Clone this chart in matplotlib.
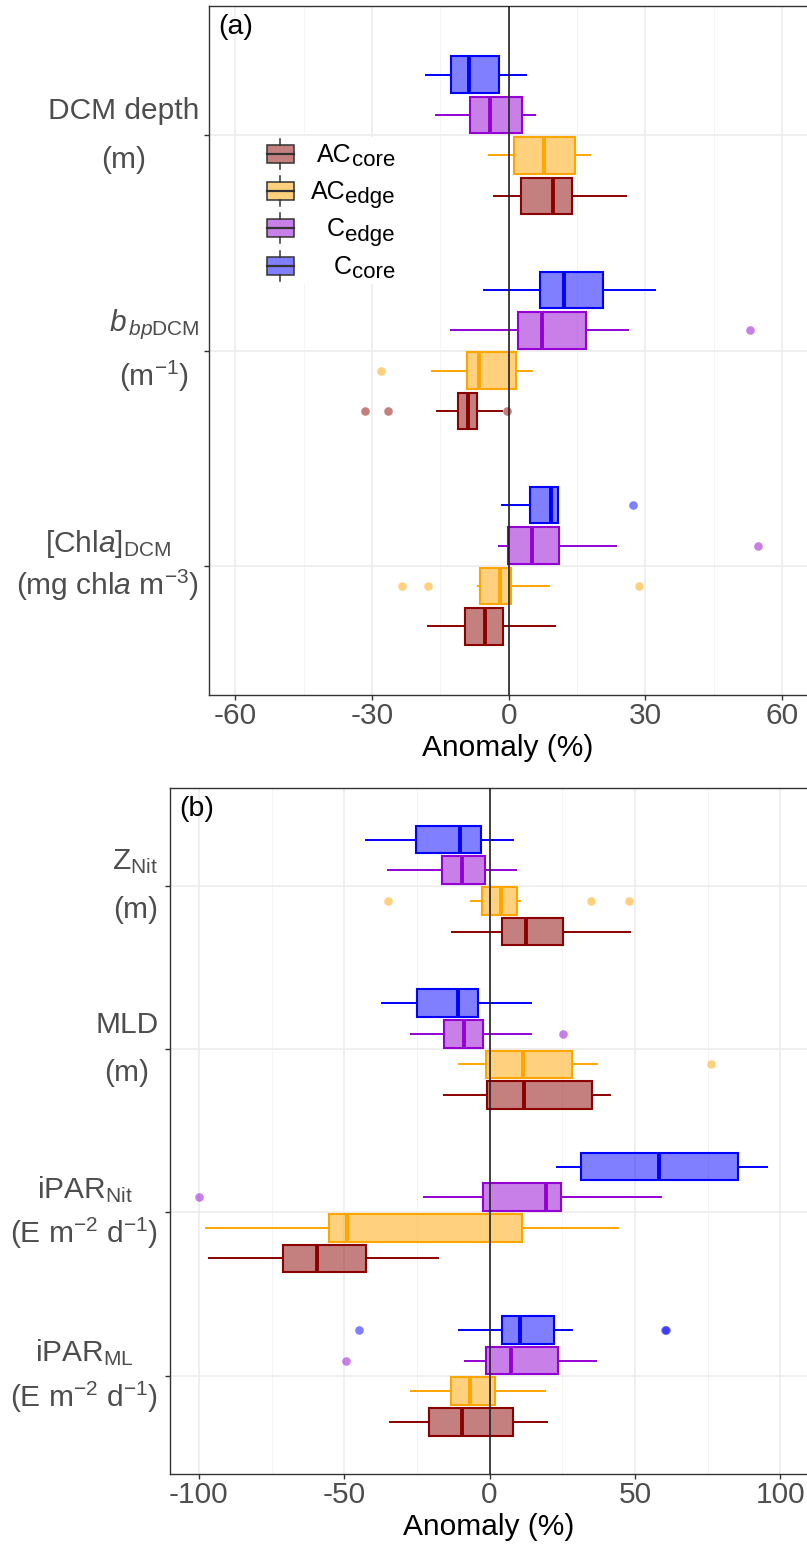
import numpy as np
import matplotlib
matplotlib.use('Agg')
import matplotlib.pyplot as plt
from matplotlib.colors import to_rgba
from matplotlib.patches import Rectangle
from matplotlib.lines import Line2D
from matplotlib.text import Annotation
import matplotlib.transforms as mtrans

plt.rcParams['font.family'] = ['Liberation Sans', 'DejaVu Sans']
plt.rcParams['mathtext.fontset'] = 'custom'
plt.rcParams['mathtext.rm'] = 'Liberation Sans'
plt.rcParams['mathtext.it'] = 'Liberation Sans:italic'
plt.rcParams['mathtext.bf'] = 'Liberation Sans:bold'
plt.rcParams['axes.unicode_minus'] = False

# ---------------- data ----------------
GROUPS = ['C_core', 'C_edge', 'AC_edge', 'AC_core']          # drawn top -> bottom inside each category
LINE_COLORS = ['#0000FF', '#9400D3', '#FFA500', '#8B0000']
LEGEND_MAIN = ['C', 'C', 'AC', 'AC']
LEGEND_SUB = ['core', 'edge', 'edge', 'core']
LEGEND_ORDER = [3, 2, 1, 0]   # indices into GROUPS, legend top -> bottom

# Panel (a): variables
A_LABELS = ['DCM depth\n(m)',
            r'$b_{\,bp\mathrm{DCM}}$' + '\n' + r'(m$^{-1}$)',
            r'[Chl$a$]$_{\mathrm{DCM}}$' + '\n' + r'(mg chl$a$ m$^{-3}$)']
# rows: variables ; columns: C_core, C_edge, AC_edge, AC_core
A_WLO = [[-18.1, -16.0, -4.3, -3.3],
         [-5.4, -12.6, -16.9, -15.7],
         [-1.4, -2.1, -6.7, -17.8]]
A_Q1 = [[-12.7, -8.4, 1.1, 2.6],
        [6.8, 2.0, -9.1, -11.2],
        [4.7, -0.2, -6.2, -9.5]]
A_MED = [[-8.8, -4.2, 7.7, 9.7],
         [12.1, 7.3, -6.5, -9.0],
         [9.2, 5.1, -1.8, -5.3]]
A_Q3 = [[-2.2, 2.9, 14.5, 13.8],
        [20.7, 16.9, 1.5, -7.0],
        [10.8, 11.0, 0.4, -1.3]]
A_WHI = [[3.8, 5.7, 17.8, 25.7],
         [32.1, 26.1, 5.1, -1.5],
         [10.8, 23.6, 8.8, 10.1]]
A_OUT = [[[], [], [], []],
         [[], [53.0], [-28.0], [-31.6, -26.5, -0.3]],
         [[27.3], [54.8], [-23.4, -17.8, 28.6], []]]
A_XTICKS = [-60, -30, 0, 30, 60]
A_XMINOR = [-45, -15, 15, 45]

# Panel (b)
B_LABELS = [r'Z$_{\mathrm{Nit}}$' + '\n(m)',
            'MLD\n(m)',
            r'iPAR$_{\mathrm{Nit}}$' + '\n' + r'(E m$^{-2}$ d$^{-1}$)',
            r'iPAR$_{\mathrm{ML}}$' + '\n' + r'(E m$^{-2}$ d$^{-1}$)']
B_WLO = [[-42.4, -35.0, -6.4, -13.0],
         [-37.0, -26.9, -10.6, -15.8],
         [23.3, -22.5, -97.4, -96.5],
         [-10.4, -8.3, -27.1, -34.2]]
B_Q1 = [[-25.4, -16.5, -2.5, 4.2],
        [-24.9, -15.8, -1.1, -0.8],
        [31.5, -2.2, -55.1, -71.0],
        [4.4, -1.3, -13.1, -21.0]]
B_MED = [[-10.1, -9.4, 4.0, 12.5],
         [-11.0, -8.8, 11.4, 11.7],
         [58.4, 19.4, -49.2, -59.2],
         [10.5, 7.5, -6.8, -9.4]]
B_Q3 = [[-2.9, -1.7, 9.3, 25.3],
        [-4.1, -2.2, 28.5, 35.2],
        [85.5, 24.5, 11.2, -42.6],
        [22.1, 23.6, 2.0, 8.2]]
B_WHI = [[8.2, 9.0, 10.5, 48.2],
         [14.4, 14.4, 36.8, 41.5],
         [95.4, 58.9, 44.1, -17.7],
         [28.4, 36.6, 19.2, 19.7]]
B_OUT = [[[], [], [-35.1, 35.0, 47.8], []],
         [[], [25.4], [76.3], []],
         [[], [-99.8], [], []],
         [[-44.9, 60.4, 60.8], [-49.4], [], []]]
B_XTICKS = [-100, -50, 0, 50, 100]
B_XMINOR = [-75, -25, 25, 75]

# label line spacings (style)
A_LSP = [1.95, 1.62, 1.3]
B_LSP = [1.95, 1.95, 1.42, 1.42]

# ---------------- figure ----------------
W, H = 807, 1546
DPI = 100
fig = plt.figure(figsize=(W / DPI, H / DPI), dpi=DPI)

def fx(px):
    return px / W

def fy(py):
    return 1 - py / H

TICK_COL = '#4D4D4D'
BORDER_COL = '#333333'
FS = 21.5


def draw_panel(ax, labels, lsp, wlo, q1, med, q3, whi, outs, xlim, xticks, xminor, tag, label_pad):
    n = len(labels)
    cats = np.arange(1, n + 1)
    dodge = 0.1875
    for g, col in enumerate(LINE_COLORS):
        stats = []
        for i in range(n):
            stats.append(dict(whislo=wlo[i][g], q1=q1[i][g], med=med[i][g],
                              q3=q3[i][g], whishi=whi[i][g], fliers=outs[i][g]))
        pos = cats + (g - 1.5) * dodge
        ax.bxp(stats, positions=pos, widths=0.169, orientation='horizontal',
               patch_artist=True, showcaps=False, manage_ticks=False,
               boxprops=dict(facecolor=to_rgba(col, 0.5), edgecolor=col, linewidth=1.5),
               medianprops=dict(color=col, linewidth=2.8, solid_capstyle='butt'),
               whiskerprops=dict(color=col, linewidth=1.4),
               flierprops=dict(marker='o', markersize=6.2, markerfacecolor=to_rgba(col, 0.5),
                               markeredgecolor='none', linestyle='none'))
    ax.axvline(0, color='#222222', lw=1.2, zorder=6)
    ax.set_xlim(*xlim)
    ax.set_ylim(n + 0.6, 0.4)
    ax.set_xticks(xticks)
    ax.set_xticks(xminor, minor=True)
    ax.set_xticklabels([str(t) for t in xticks])
    ax.set_yticks(cats)
    ax.set_yticklabels([''] * n)
    ax.grid(which='major', color='#EBEBEB', lw=1.1, zorder=0)
    ax.grid(which='minor', axis='x', color='#F4F4F4', lw=0.7, zorder=0)
    ax.set_axisbelow(True)
    ax.tick_params(axis='both', which='major', length=3.5, width=1.0, color=BORDER_COL,
                   labelcolor=TICK_COL, labelsize=FS, pad=1.5)
    ax.tick_params(axis='x', which='minor', length=0)
    for side in ['left', 'top', 'bottom']:
        ax.spines[side].set_color(BORDER_COL)
        ax.spines[side].set_linewidth(1.0)
    ax.spines['right'].set_visible(False)
    ax.set_xlabel('Anomaly (%)', fontsize=FS, color='black', labelpad=3)
    trans = ax.get_yaxis_transform() + mtrans.ScaledTranslation(-label_pad / 72, 0, fig.dpi_scale_trans)
    for c, lab, ls in zip(cats, labels, lsp):
        ax.text(0, c, lab, transform=trans, ha='right', va='center', ma='center',
                fontsize=FS, color=TICK_COL, linespacing=ls)
    ax.text(0.016, 0.988, tag, transform=ax.transAxes, ha='left', va='top', fontsize=20.5, color='black')


ax_a = fig.add_axes([fx(209), fy(695), 1 - fx(209), (695 - 6) / H])
draw_panel(ax_a, A_LABELS, A_LSP, A_WLO, A_Q1, A_MED, A_Q3, A_WHI, A_OUT,
           (-65.8, 65.5), A_XTICKS, A_XMINOR, '(a)', 7)

ax_b = fig.add_axes([fx(169.5), fy(1474), 1 - fx(169.5), (1474 - 787.5) / H])
draw_panel(ax_b, B_LABELS, B_LSP, B_WLO, B_Q1, B_MED, B_Q3, B_WHI, B_OUT,
           (-110.1, 109.2), B_XTICKS, B_XMINOR, '(b)', 8)

# ---------------- legend (inside panel a) ----------------
fig.add_artist(Rectangle((fx(258), fy(284)), (410 - 258) / W, (284 - 137) / H,
                         transform=fig.transFigure, facecolor='white', edgecolor='none', zorder=1))
rows = [154, 191, 228, 266]
for r, gi in zip(rows, LEGEND_ORDER):
    col = LINE_COLORS[gi]
    kx, kw, kh = 280, 27, 18
    fig.add_artist(Rectangle((fx(kx - kw / 2), fy(r + kh / 2)), kw / W, kh / H,
                             transform=fig.transFigure, facecolor=to_rgba(col, 0.5),
                             edgecolor='#333333', lw=1.1, zorder=2))
    fig.add_artist(Line2D([fx(kx - kw / 2), fx(kx + kw / 2)], [fy(r), fy(r)],
                          transform=fig.transFigure, color='#333333', lw=1.6, zorder=3))
    for a, b in [(r - kh / 2, r - kh / 2 - 6), (r + kh / 2, r + kh / 2 + 6)]:
        fig.add_artist(Line2D([fx(kx), fx(kx)], [fy(a), fy(b)], transform=fig.transFigure,
                              color='#333333', lw=1.1, zorder=3))
    sub = fig.text(fx(395), fy(r + 12.5), LEGEND_SUB[gi], ha='right', va='baseline',
                   fontsize=16, color='black', zorder=4)
    main = Annotation(LEGEND_MAIN[gi], xy=(0, 0), xycoords=sub, xytext=(-0.3, 7.0),
                      textcoords='offset points', ha='right', va='baseline', fontsize=18,
                      color='black', annotation_clip=False)
    main.set_zorder(5)
    fig.add_artist(main)

fig.savefig('out.png', dpi=DPI)
